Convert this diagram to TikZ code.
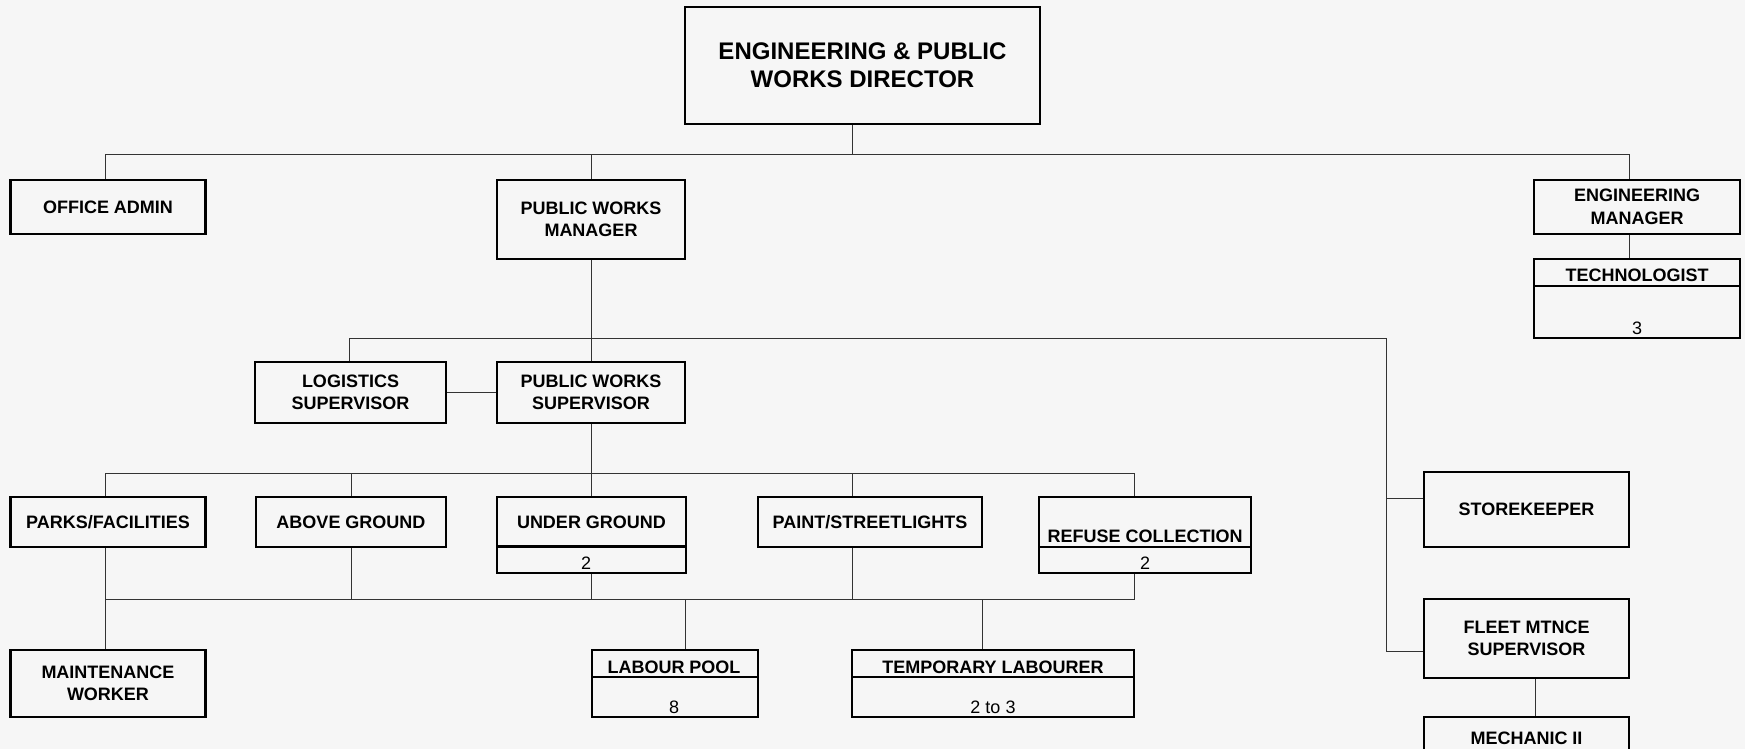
\documentclass[tikz,border=0pt]{standalone}
\usepackage{fontspec}
\setmainfont{Liberation Sans}
\definecolor{bgc}{HTML}{F6F6F6}
\definecolor{linec}{HTML}{333333}
\begin{document}
\begin{tikzpicture}[x=1pt,y=-1pt,
  box/.style={draw=black, line width=2.6pt, inner sep=0pt, align=center,
    font=\bfseries\fontsize{18}{22.5}\selectfont},
  bigbox/.style={box, line width=2.6pt, font=\bfseries\fontsize{24}{28}\selectfont},
  hdr/.style={inner sep=0pt, align=center, font=\bfseries\fontsize{18}{22.5}\selectfont},
  num/.style={inner sep=0pt, anchor=base, font=\fontsize{18}{22}\selectfont},
  divline/.style={draw=black, line width=2.4pt},
  conn/.style={draw=linec, line width=1pt}]
\useasboundingbox (0,0) rectangle (1745,749);
\fill[bgc] (0,0) rectangle (1745,749);
\clip (0,0) rectangle (1745,749);

% ---- boxes ----
\node[bigbox, minimum width=355pt, minimum height=117pt] (dir) at (862.5,65.5) {ENGINEERING \& PUBLIC\\WORKS DIRECTOR};
\node[box, minimum width=194.5pt, minimum height=54pt] (oa) at (108,207) {OFFICE ADMIN};
\node[box, minimum width=188pt, minimum height=79pt] (pwm) at (591,219.5) {PUBLIC WORKS\\MANAGER};
\node[box, minimum width=206pt, minimum height=54pt] (em) at (1637,207) {ENGINEERING\\MANAGER};
\node[box, minimum width=206pt, minimum height=79pt] (tech) at (1637,298.5) {};
\draw[divline] (1534,286) -- (1740,286);
\node[hdr, anchor=base] (techt) at (1637,281.5) {TECHNOLOGIST};
\node[num] (techn) at (1637,334) {3};

\node[box, minimum width=191pt, minimum height=61pt] (log) at (350.5,392.5) {LOGISTICS\\SUPERVISOR};
\node[box, minimum width=188pt, minimum height=61pt] (pws) at (591,392.5) {PUBLIC WORKS\\SUPERVISOR};

\node[box, minimum width=194.5pt, minimum height=50pt] (parks) at (108,522) {PARKS/FACILITIES};
\node[box, minimum width=190pt, minimum height=50pt] (ag) at (351,522) {ABOVE GROUND};
\node[box, minimum width=189pt, minimum height=76pt] (ug) at (591.5,535) {};
\draw[divline] (497,546.5) -- (686,546.5);
\node[hdr] (ugt) at (591.5,522) {UNDER GROUND};
\node[num] (ugn) at (586,569.5) {2};
\node[box, minimum width=224pt, minimum height=50pt] (paint) at (870,522) {PAINT/STREETLIGHTS};
\node[box, minimum width=212pt, minimum height=76pt] (ref) at (1145,535) {};
\draw[divline] (1039,547) -- (1251,547);
\node[hdr, anchor=base] (reft) at (1145,542.5) {REFUSE COLLECTION};
\node[num] (refn) at (1145,569.5) {2};

\node[box, minimum width=194.5pt, minimum height=67pt] (mw) at (108,683.5) {MAINTENANCE\\WORKER};
\node[box, minimum width=166pt, minimum height=67pt] (lp) at (675,683.5) {};
\draw[divline] (592,677) -- (758,677);
\node[hdr, anchor=base] (lpt) at (674,673.5) {LABOUR POOL};
\node[num] (lpn) at (674,713) {8};
\node[box, minimum width=282pt, minimum height=67pt] (tl) at (993,683.5) {};
\draw[divline] (852,677) -- (1134,677);
\node[hdr, anchor=base] (tlt) at (993,673.5) {TEMPORARY LABOURER};
\node[num] (tln) at (993,713) {2 to 3};

\node[box, minimum width=205pt, minimum height=75pt] (sk) at (1526.5,509.5) {STOREKEEPER};
\node[box, minimum width=205pt, minimum height=79pt] (fl) at (1526.5,638.5) {FLEET MTNCE\\SUPERVISOR};
\node[box, minimum width=205pt, minimum height=70pt] (mech) at (1526.5,752) {};
\node[hdr, anchor=base] (mecht) at (1526.5,744.5) {MECHANIC II};

% ---- connectors ----
\coordinate (tb) at (852,154);
\coordinate (tbL) at (105,154);
\coordinate (tbR) at (1629,154);
\draw[conn] (dir.south -| tb) -- (tb);
\draw[conn] (oa.north -| tbL) -- (tbL) -- (tbR) -- (em.north -| tbR);
\draw[conn] (pwm.north |- tbL) -- (pwm.north);
\draw[conn] (em.south -| tbR) -- (tech.north -| tbR);

\draw[conn] (pwm.south) -- (pws.north);
\coordinate (sbL) at (349,338);
\coordinate (sbR) at (1386,338);
\coordinate (skc) at (1386,498);
\coordinate (flc) at (1386,651);
\draw[conn] (log.north -| sbL) -- (sbL) -- (sbR) -- (flc) -- (fl.west |- flc);
\draw[conn] (skc) -- (sk.west |- skc);
\draw[conn] (log.east) -- (pws.west);

\coordinate (c3L) at (105,473);
\coordinate (c3R) at (1134,473);
\coordinate (pst) at (852,473);
\draw[conn] (pws.south) -- (pws.south |- c3L);
\draw[conn] (parks.north -| c3L) -- (c3L) -- (c3R) -- (ref.north -| c3R);
\draw[conn] (ag.north |- c3L) -- (ag.north);
\draw[conn] (ug.north |- c3L) -- (ug.north);
\draw[conn] (pst) -- (paint.north -| pst);

\coordinate (b4L) at (105,599);
\coordinate (b4R) at (1134,599);
\coordinate (lpx) at (685,599);
\coordinate (tlx) at (982,599);
\draw[conn] (parks.south -| b4L) -- (mw.north -| b4L);
\draw[conn] (b4L) -- (b4R) -- (ref.south -| b4R);
\draw[conn] (ag.south) -- (ag.south |- b4L);
\draw[conn] (ug.south) -- (ug.south |- b4L);
\draw[conn] (paint.south -| pst) -- (pst |- b4L);
\draw[conn] (lpx) -- (lp.north -| lpx);
\draw[conn] (tlx) -- (tl.north -| tlx);
\coordinate (mx) at (1535,700);
\draw[conn] (fl.south -| mx) -- (mech.north -| mx);
\end{tikzpicture}
\end{document}
